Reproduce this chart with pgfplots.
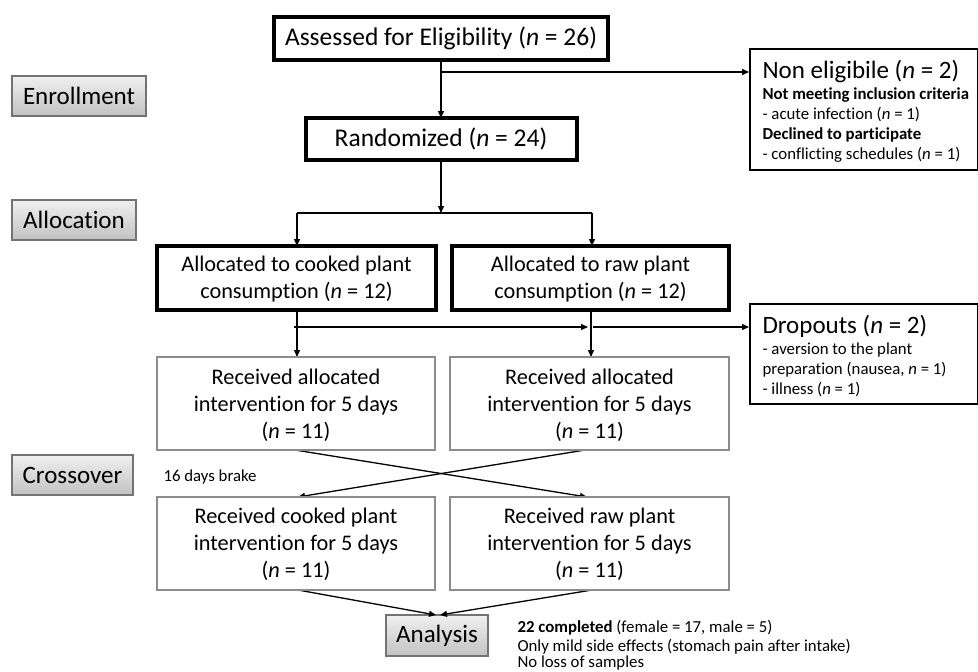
\documentclass[border=0pt]{standalone}
\usepackage{fontspec}
\setmainfont[Ligatures=NoCommon]{Carlito}
\usepackage{pgfplots}
\pgfplotsset{compat=1.18}
\usetikzlibrary{arrows.meta}
\newcommand{\nn}{\textit{n}}
\newcommand{\sm}{\fontsize{16.8}{20}\selectfont}
\begin{document}
\begin{tikzpicture}
\begin{axis}[
  width=978pt, height=672pt, scale only axis,
  xmin=0, xmax=978, ymin=0, ymax=672, y dir=reverse,
  hide axis, clip=false,
]
\coordinate (BL) at (axis cs:0,672);
\coordinate (TR) at (axis cs:978,0);
\tikzset{
  thickbox/.style={draw=black, line width=3.4pt, fill=white},
  thinbox/.style={draw=black, line width=1.3pt, fill=white},
  graybox/.style={draw=black!45, line width=2.2pt, fill=white},
  stagebox/.style={draw=black!55, line width=1.8pt, top color=black!6, bottom color=black!24},
  arr/.style={black, line width=1.3pt, -{Triangle[length=7pt,width=6pt]}},
  ln/.style={black, line width=1.3pt},
}
% stage labels
\draw[stagebox] (axis cs:12,76) rectangle (axis cs:146,116);
\node[font=\fontsize{25}{30}\selectfont] at (axis cs:79,96) {Enrollment};
\draw[stagebox] (axis cs:12,200) rectangle (axis cs:136,240);
\node[font=\fontsize{25}{30}\selectfont] at (axis cs:74,220) {Allocation};
\draw[stagebox] (axis cs:12,455) rectangle (axis cs:133,495);
\node[font=\fontsize{25}{30}\selectfont] at (axis cs:72.5,475) {Crossover};
\draw[stagebox] (axis cs:386,615) rectangle (axis cs:488,656);
\node[font=\fontsize{25}{30}\selectfont] at (axis cs:437,635.5) {Analysis};

% arrows (lines)
\addplot[arr] coordinates {(441,60) (441,118)};
\addplot[arr] coordinates {(441,72) (749,72)};
\addplot[arr] coordinates {(441,160) (441,213)};
\addplot[ln] coordinates {(297,213) (592,213)};
\addplot[arr] coordinates {(297,213) (297,246)};
\addplot[arr] coordinates {(592,213) (592,246)};
\addplot[arr] coordinates {(297,310) (297,357)};
\addplot[arr] coordinates {(591,310) (591,357)};
\addplot[arr] coordinates {(294,327) (588,327)};
\addplot[arr] coordinates {(593,327) (749,327)};
\addplot[arr] coordinates {(295,450) (587,497)};
\addplot[arr] coordinates {(585,450) (298,497)};
\addplot[arr] coordinates {(298,590) (436,615)};
\addplot[arr] coordinates {(592,590) (440,615)};

% main boxes
\draw[thickbox] (axis cs:274,17) rectangle (axis cs:608,60);
\node[font=\fontsize{25.5}{30}\selectfont] at (axis cs:441,38.5) {Assessed for Eligibility (\nn{} = 26)};
\draw[thickbox] (axis cs:306,118) rectangle (axis cs:577,160);
\node[font=\fontsize{25.5}{30}\selectfont] at (axis cs:441,139) {Randomized (\nn{} = 24)};
\draw[thickbox] (axis cs:157,246) rectangle (axis cs:436,310);
\node[font=\fontsize{22.3}{27}\selectfont, align=center] at (axis cs:296.5,279) {Allocated to cooked plant\\consumption (\nn{} = 12)};
\draw[thickbox] (axis cs:452,246) rectangle (axis cs:729,310);
\node[font=\fontsize{22.3}{27}\selectfont, align=center] at (axis cs:590.5,279) {Allocated to raw plant\\consumption (\nn{} = 12)};

\draw[graybox] (axis cs:157,357) rectangle (axis cs:435,450);
\node[font=\fontsize{22.3}{27}\selectfont, align=center] at (axis cs:296,405) {Received allocated\\intervention for 5 days\\(\nn{} = 11)};
\draw[graybox] (axis cs:450,357) rectangle (axis cs:729,450);
\node[font=\fontsize{22.3}{27}\selectfont, align=center] at (axis cs:589.5,405) {Received allocated\\intervention for 5 days\\(\nn{} = 11)};
\draw[graybox] (axis cs:157,497) rectangle (axis cs:435,590);
\node[font=\fontsize{22.3}{27}\selectfont, align=center] at (axis cs:296,544.5) {Received cooked plant\\intervention for 5 days\\(\nn{} = 11)};
\draw[graybox] (axis cs:450,497) rectangle (axis cs:729,590);
\node[font=\fontsize{22.3}{27}\selectfont, align=center] at (axis cs:589.5,544.5) {Received raw plant\\intervention for 5 days\\(\nn{} = 11)};

% side boxes
\draw[thinbox] (axis cs:750,49) rectangle (axis cs:977.3,170);
\node[anchor=base west, font=\fontsize{25}{30}\selectfont] at (axis cs:759,78) {Non eligibile (\nn{} = 2)};
\node[anchor=base west, font=\sm\bfseries] at (axis cs:759,99) {Not meeting inclusion criteria};
\node[anchor=base west, font=\sm] at (axis cs:759,119) {- acute infection (\nn{} = 1)};
\node[anchor=base west, font=\sm\bfseries] at (axis cs:759,139) {Declined to participate};
\node[anchor=base west, font=\sm] at (axis cs:759,159) {- conflicting schedules (\nn{} = 1)};

\draw[thinbox] (axis cs:750,304) rectangle (axis cs:977.3,404);
\node[anchor=base west, font=\fontsize{25}{30}\selectfont] at (axis cs:759,333) {Dropouts (\nn{} = 2)};
\node[anchor=base west, font=\sm] at (axis cs:759,354) {- aversion to the plant};
\node[anchor=base west, font=\sm] at (axis cs:759,374) {preparation (nausea, \nn{} = 1)};
\node[anchor=base west, font=\sm] at (axis cs:759,394) {- illness (\nn{} = 1)};

% free text
\node[anchor=base west, font=\sm] at (axis cs:160,481) {16 days brake};
\node[anchor=base west, font=\sm] at (axis cs:514,632) {\textbf{22 completed} (female = 17, male = 5)};
\node[anchor=base west, font=\sm] at (axis cs:514,651) {Only mild side effects (stomach pain after intake)};
\node[anchor=base west, font=\sm] at (axis cs:514,667.5) {No loss of samples};
\end{axis}
\pgfresetboundingbox
\useasboundingbox (BL) rectangle (TR);
\end{tikzpicture}
\end{document}
